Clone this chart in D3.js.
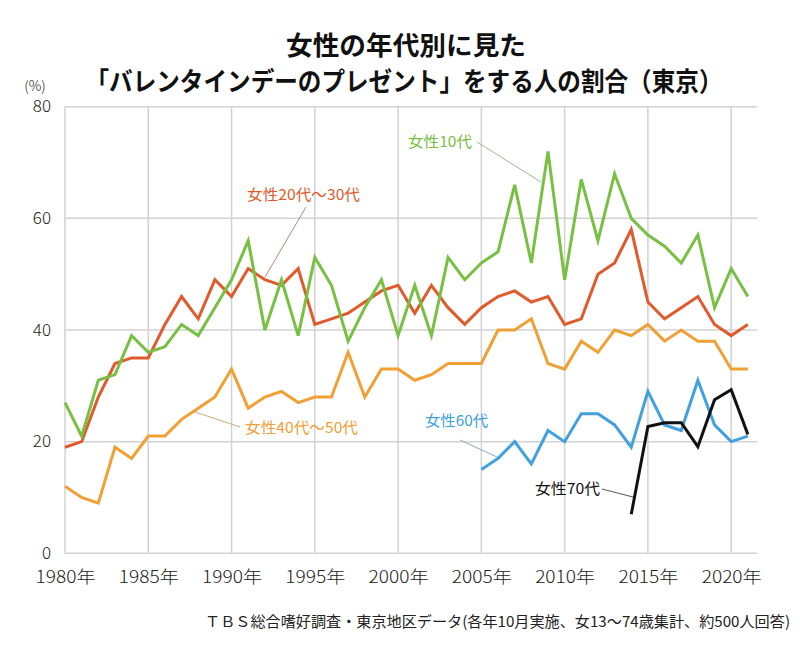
<!DOCTYPE html>
<html><head><meta charset="utf-8">
<script src="https://cdn.jsdelivr.net/npm/d3@7"></script>
<style>
html,body{margin:0;padding:0;background:#fff;}
svg{display:block;font-family:"Noto Sans CJK JP","Noto Sans",sans-serif;}
</style></head>
<body><div id="chart"></div>
<script>
const years = d3.range(1980, 2022);
const teens = [27,21,31,32,39,36,37,41,39,44,49,56,40,49,39,53,48,38,44,49,39,48,39,53,49,52,54,66,52,72,49,67,56,68,60,57,55,52,57,44,51,46];
const age20_30 = [19,20,28,34,35,35,41,46,42,49,46,51,49,48,51,41,42,43,45,47,48,43,48,44,41,44,46,47,45,46,41,42,50,52,58,45,42,44,46,41,39,41];
const age40_50 = [12,10,9,19,17,21,21,24,26,28,33,26,28,29,27,28,28,36,28,33,33,31,32,34,34,34,40,40,42,34,33,38,36,40,39,41,38,40,38,38,33,33];
const years60 = d3.range(2005, 2022);
const age60 = [15,17,20,16,22,20,25,25,23,19,29,23,22,31,23,20,21];
const years70 = d3.range(2014, 2022);
const age70 = [7,22.7,23.4,23.4,19.1,27.5,29.3,21.3];
const yTicks = [0,20,40,60,80];
const xTicks = [1980,1985,1990,1995,2000,2005,2010,2015,2020];

const W = 800, H = 645;
const svg = d3.select("#chart").append("svg").attr("width", W).attr("height", H);
const x = d3.scaleLinear().domain([1980, 2021.55]).range([65, 757]);
const y = d3.scaleLinear().domain([0, 80]).range([553.3, 106.7]);
const gridColor = "#d2d2d2";

// grid
const g = svg.append("g");
g.selectAll("line.h").data(yTicks).join("line")
  .attr("x1", x(1980)).attr("x2", x(2021.55))
  .attr("y1", d => y(d)).attr("y2", d => y(d))
  .attr("stroke", gridColor).attr("stroke-width", 1.5);
g.selectAll("line.v").data(xTicks).join("line")
  .attr("x1", d => x(d)).attr("x2", d => x(d))
  .attr("y1", y(0)).attr("y2", y(80))
  .attr("stroke", gridColor).attr("stroke-width", 1.5);

// axes via d3
const yAxis = d3.axisLeft(y).tickValues(yTicks).tickSize(0).tickPadding(14);
const ya = svg.append("g").attr("transform", `translate(${x(1980)},0)`).call(yAxis);
ya.select(".domain").remove();
ya.selectAll("text").attr("font-size", 17).attr("fill", "#222")
  .attr("font-family", "'Noto Sans CJK JP',sans-serif").attr("font-weight", 300)
  .attr("dy", "0.3em");

const xAxis = d3.axisBottom(x).tickValues(xTicks).tickSize(0).tickPadding(18).tickFormat(d => d + "年");
const xa = svg.append("g").attr("transform", `translate(0,${y(0)})`).call(xAxis);
xa.select(".domain").remove();
xa.selectAll("text").attr("font-size", 17).attr("fill", "#222")
  .attr("font-family", "'Noto Sans CJK JP',sans-serif").attr("font-weight", 300)
  .attr("textLength", 60).attr("lengthAdjust", "spacingAndGlyphs");

svg.append("text").attr("x", 35).attr("y", 91).attr("text-anchor", "middle")
  .attr("font-size", 14).attr("font-weight", 300).attr("fill", "#222").text("(%)");

// lines
const line = d3.line().x(d => x(d[0])).y(d => y(d[1]));
const series = [
  {ys: years, vs: age40_50, color: "#f0a035"},
  {ys: years, vs: age20_30, color: "#e05a2c"},
  {ys: years, vs: teens, color: "#78c043"},
  {ys: years60, vs: age60, color: "#42a0dc"},
  {ys: years70, vs: age70, color: "#111111"}
];
svg.append("g").selectAll("path").data(series).join("path")
  .attr("d", s => line(s.ys.map((yr, i) => [yr, s.vs[i]])))
  .attr("fill", "none").attr("stroke", s => s.color).attr("stroke-width", 3)
  .attr("stroke-linejoin", "miter");

// labels with leader lines
const labels = [
  {t: "女性10代", color: "#78c043", tx: 408, ty: 147, w: 64, lx1: 477, ly1: 142, lx2: 541, ly2: 182, lc: "#9ab88a"},
  {t: "女性20代〜30代", color: "#e05a2c", tx: 247, ty: 200, w: 113, lx1: 306, ly1: 207, lx2: 265, ly2: 277, lc: "#b08a7a"},
  {t: "女性40代〜50代", color: "#f0a035", tx: 245, ty: 433, w: 113, lx1: 240, ly1: 427, lx2: 195, ly2: 412, lc: "#c8aa80"},
  {t: "女性60代", color: "#42a0dc", tx: 425, ty: 426, w: 63, lx1: 460, ly1: 440, lx2: 497, ly2: 457, lc: "#8aa8c0"},
  {t: "女性70代", color: "#111111", tx: 535, ty: 494, w: 65, lx1: 602, ly1: 489, lx2: 633, ly2: 497, lc: "#555555"}
];
const lg = svg.append("g");
lg.selectAll("line").data(labels).join("line")
  .attr("x1", d => d.lx1).attr("y1", d => d.ly1).attr("x2", d => d.lx2).attr("y2", d => d.ly2)
  .attr("stroke", d => d.lc).attr("stroke-width", 1);
lg.selectAll("text").data(labels).join("text")
  .attr("x", d => d.tx).attr("y", d => d.ty).attr("fill", d => d.color)
  .attr("font-size", 15).attr("font-weight", 400)
  .attr("textLength", d => d.w).attr("lengthAdjust", "spacingAndGlyphs").text(d => d.t);

// title
svg.append("text").attr("x", 406).attr("y", 55).attr("text-anchor", "middle")
  .attr("font-size", 26).attr("font-weight", 700).attr("fill", "#111")
  .attr("textLength", 240).attr("lengthAdjust", "spacingAndGlyphs").text("女性の年代別に見た");
svg.append("text").attr("x", 404).attr("y", 91).attr("text-anchor", "middle")
  .attr("font-size", 26).attr("font-weight", 700).attr("fill", "#111")
  .attr("textLength", 637).attr("lengthAdjust", "spacingAndGlyphs").text("「バレンタインデーのプレゼント」をする人の割合（東京）");

// source
svg.append("text").attr("x", 790).attr("y", 627).attr("text-anchor", "end")
  .attr("font-size", 15).attr("font-weight", 400).attr("fill", "#222")
  .attr("textLength", 585).attr("lengthAdjust", "spacingAndGlyphs")
  .text("ＴＢＳ総合嗜好調査・東京地区データ(各年10月実施、女13〜74歳集計、約500人回答)");
</script></body></html>
